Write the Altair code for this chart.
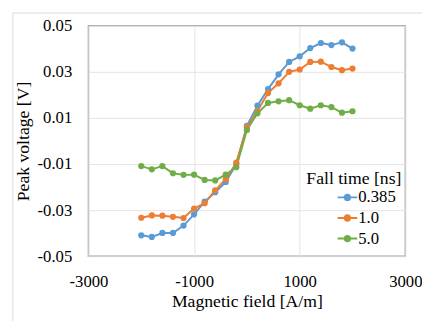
import altair as alt
import pandas as pd

field = [-2000, -1800, -1600, -1400, -1200, -1000, -800, -600, -400, -200, 0,
         200, 400, 600, 800, 1000, 1200, 1400, 1600, 1800, 2000]
v_0385 = [-0.0409, -0.0416, -0.0399, -0.0399, -0.0367, -0.0318, -0.0263, -0.0222, -0.0178, -0.0100, 0.0066,
          0.0153, 0.0225, 0.0289, 0.0343, 0.0367, 0.0403, 0.0425, 0.0416, 0.0428, 0.0401]
v_10 = [-0.0333, -0.0323, -0.0324, -0.0329, -0.0334, -0.0293, -0.0270, -0.0214, -0.0166, -0.0094, 0.0060,
        0.0130, 0.0208, 0.0250, 0.0300, 0.0310, 0.0343, 0.0344, 0.0321, 0.0307, 0.0314]
v_50 = [-0.0109, -0.0123, -0.0109, -0.0140, -0.0147, -0.0146, -0.0169, -0.0171, -0.0146, -0.0114, 0.0048,
        0.0120, 0.0165, 0.0172, 0.0177, 0.0155, 0.0140, 0.0155, 0.0147, 0.0123, 0.0129]
series = ["0.385", "1.0", "5.0"]
colors = ["#5B9BD5", "#ED7D31", "#70AD47"]
legend_title = ["Fall time [ns]"]
x_ticks = [-3000, -1000, 1000, 3000]
y_ticks = [-0.05, -0.03, -0.01, 0.01, 0.03, 0.05]

rows = []
for name, vals in zip(series, [v_0385, v_10, v_50]):
    for f, v in zip(field, vals):
        rows.append({"field": f, "voltage": v, "fall": name})
df = pd.DataFrame(rows)
one = pd.DataFrame({"t": legend_title})

FONT = "'Liberation Serif', 'Times New Roman', 'DejaVu Serif', serif"

x_enc = alt.X("field:Q",
              scale=alt.Scale(domain=[-3000, 3000], nice=False),
              axis=alt.Axis(values=x_ticks, title="Magnetic field [A/m]", format="d",
                            labelExpr="replace(datum.label, '\u2212', '-')",
                            labelFlush=False, labelOverlap=False,
                            ticks=False, tickSize=0, domain=False, labelPadding=18,
                            labelFont=FONT, titleFont=FONT,
                            labelFontSize=17, titleFontSize=18, titleFontWeight="normal",
                            titleY=37, titleBaseline="top",
                            gridColor="#e3e3e3", labelColor="#000", titleColor="#000"))
y_enc = alt.Y("voltage:Q",
              scale=alt.Scale(domain=[-0.05, 0.05], nice=False),
              axis=alt.Axis(values=y_ticks, title="Peak voltage [V]", format=".2f",
                            labelExpr="replace(datum.label, '\u2212', '-')",
                            labelFlush=False, labelOverlap=False,
                            ticks=False, tickSize=0, domain=False, labelPadding=17,
                            labelFont=FONT, titleFont=FONT,
                            labelFontSize=17, titleFontSize=18, titleFontWeight="normal",
                            titleX=-57, titleY=117.5, titleBaseline="bottom",
                            gridColor="#e3e3e3", labelColor="#000", titleColor="#000"))

color_scale = alt.Scale(domain=series, range=colors)
legend = alt.Legend(
    title=None, orient="none", legendX=253, legendY=164,
    symbolType="M-1,0L1,0M0.27,0A0.27,0.27,0,1,1,-0.27,0A0.27,0.27,0,1,1,0.27,0Z",
    symbolSize=400, symbolStrokeWidth=2, symbolOffset=0, labelOffset=0,
    labelFont=FONT, labelFontSize=17, rowPadding=2, padding=0,
    labelColor="#000",
)

lines = alt.Chart(df).mark_line(strokeWidth=2).encode(
    x=x_enc, y=y_enc,
    color=alt.Color("fall:N", scale=color_scale, legend=legend, sort=series),
)
points = alt.Chart(df).mark_circle(size=40, opacity=1).encode(
    x="field:Q", y="voltage:Q",
    color=alt.Color("fall:N", scale=color_scale, legend=legend, sort=series),
)
ltitle = alt.Chart(one).mark_text(
    font=FONT, fontSize=18, align="right", baseline="alphabetic", color="#000"
).encode(text="t:N", x=alt.value(319), y=alt.value(161))

frame_left = alt.Chart(one).mark_rule(color="#d9d9d9", strokeWidth=1).encode(
    x=alt.value(-77), y=alt.value(-13), y2=alt.value(301))
frame_top = alt.Chart(one).mark_rule(color="#d9d9d9", strokeWidth=1).encode(
    x=alt.value(-77), x2=alt.value(340), y=alt.value(-13))

chart = alt.layer(frame_left, frame_top, lines, points, ltitle).properties(
    width=323, height=235,
    autosize=alt.AutoSizeParams(type="none"),
    padding={"left": 82, "top": 15, "right": 17, "bottom": 66},
).configure(font=FONT).configure_view(
    stroke="#a0a0a0", strokeWidth=1.5
)

chart.save("out.html", embed_options={"renderer": "svg", "actions": False})
